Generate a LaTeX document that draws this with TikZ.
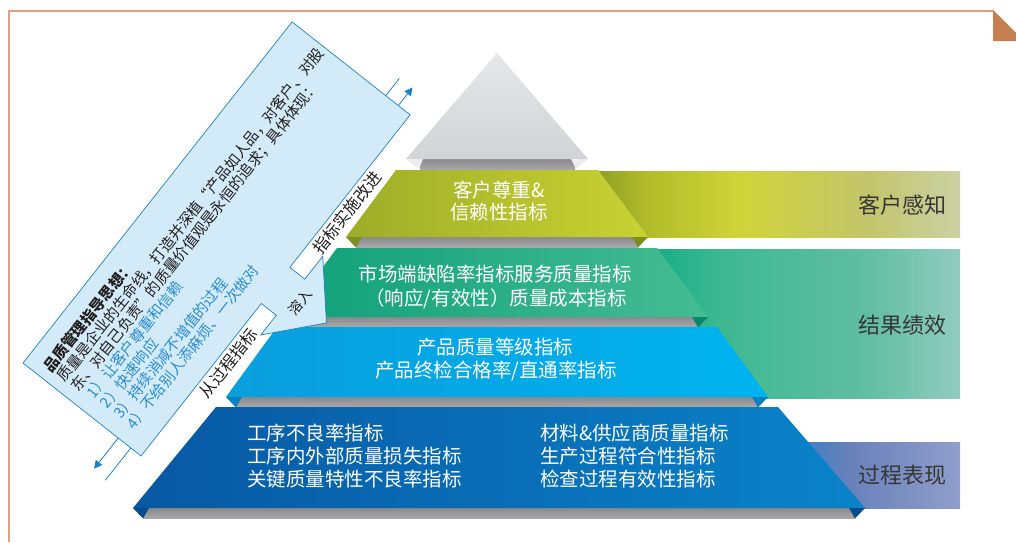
\documentclass[tikz,border=0pt]{standalone}
\usepackage{fontspec}
\newfontfamily\cjk{Noto Sans CJK SC}
\usetikzlibrary{arrows.meta}
\definecolor{framec}{HTML}{E3A07E}
\definecolor{cornerc}{HTML}{C77F4F}
\definecolor{cfill}{HTML}{D3EBF9}
\definecolor{cline}{HTML}{1F80C8}
\definecolor{ctext}{HTML}{2A8CD3}
\definecolor{cblack}{HTML}{231F20}
\definecolor{labc}{HTML}{363636}
\definecolor{barA}{HTML}{8A8A8C}
\definecolor{barB}{HTML}{A9A9AB}
\definecolor{triA}{HTML}{E6E7E9}
\definecolor{triB}{HTML}{D2D3D5}
\definecolor{triC}{HTML}{EDEDEF}
% layers
\definecolor{grA}{HTML}{9CAD28}\definecolor{grB}{HTML}{CAD232}\definecolor{grF}{HTML}{7E8D1F}
\definecolor{teA}{HTML}{0FA079}\definecolor{teB}{HTML}{45BC93}\definecolor{teF}{HTML}{0B8767}
\definecolor{cyA}{HTML}{0A9EDD}\definecolor{cyB}{HTML}{00B3EF}\definecolor{cyF}{HTML}{0A80C2}
\definecolor{dbA}{HTML}{0858A3}\definecolor{dbB}{HTML}{0A83C9}\definecolor{dbF}{HTML}{064C8F}
% bands
\definecolor{b1a}{HTML}{8D9E25}\definecolor{b1b}{HTML}{B1BC29}\definecolor{b1c}{HTML}{CFD438}
\definecolor{b1d}{HTML}{C3C56C}\definecolor{b1e}{HTML}{CAD2A3}
\definecolor{b2a}{HTML}{13AD85}\definecolor{b2b}{HTML}{3DB891}\definecolor{b2c}{HTML}{62BEA2}
\definecolor{b2d}{HTML}{91CCBF}
\definecolor{b3a}{HTML}{3A80C6}\definecolor{b3b}{HTML}{6981BA}\definecolor{b3c}{HTML}{909ECB}

% #1 ytop #2 ybot #3 xtl #4 xtr #5 xbl #6 xbr #7 left colour #8 right colour #9 fold colour
\newcommand\pyrlayer[9]{%
  \shade[top color=barA,bottom color=barB] (#5+10,#2) rectangle (#6-10,#2+10.5);
  \shade[left color=#7,right color=#8] (#3,#1) -- (#4,#1) -- (#6,#2) -- (#5,#2) -- cycle;
  \fill[#9] (#5,#2) -- (#5+16,#2) -- (#5+10,#2+10.5) -- cycle;
  \fill[#9] (#6,#2) -- (#6-16,#2) -- (#6-10,#2+10.5) -- cycle;
}

\begin{document}
\begin{tikzpicture}[x=1pt,y=-1pt,
  lt/.style={font=\cjk\fontsize{19.5}{23}\selectfont,text=white,inner sep=0pt,anchor=base},
  ltl/.style={lt,anchor=base west},
  lab/.style={font=\cjk\fontsize{22}{26}\selectfont,text=labc,inner sep=0pt,anchor=base east},
  ct/.style={font=\cjk\fontsize{15}{16.75}\selectfont,text=cblack,inner sep=0pt,anchor=north west,rotate=51.7,align=left},
  bt/.style={font=\cjk\fontsize{16.5}{18}\selectfont,text=cblack,inner sep=0pt,anchor=center,rotate=51.7},
  conn/.style={draw=cline,line width=0.8pt},
  arr/.style={conn,-{Triangle[length=8pt,width=8pt]}},
]
\useasboundingbox (0,0) rectangle (1016,542);

% frame
\draw[framec,line width=1.4pt] (9,542) -- (9,11) -- (993,11);
\fill[cornerc] (993,10) -- (1016,33) -- (1016,41) -- (993,41) -- cycle;

% right bands
\shade[left color=b1a,right color=b1b] (596,171) rectangle (645.5,237);
\shade[left color=b1b,right color=b1c] (645,171) rectangle (740.5,237);
\shade[left color=b1c,right color=b1d] (740,171) rectangle (870.5,237);
\shade[left color=b1d,right color=b1e] (870,171) rectangle (960,237);

\shade[left color=b2a,right color=b2b] (650,249) rectangle (720.5,398);
\shade[left color=b2b,right color=b2c] (720,249) rectangle (870.5,398);
\shade[left color=b2c,right color=b2d] (870,249) rectangle (960,398);

\shade[left color=b3a,right color=b3b] (800,442) rectangle (850.5,508);
\shade[left color=b3b,right color=b3c] (850,442) rectangle (960,508);

\node[lab] (l1) at (947,213.4) {客户感知};
\node[lab] (l2) at (947,333.4) {结果绩效};
\node[lab] (l3) at (947,483.4) {过程表现};

% top grey triangle
\shade[top color=barA,bottom color=barB] (420,159) rectangle (575,170);
\shade[top color=triA,bottom color=triB] (497,53) -- (588,159) -- (406,159) -- cycle;
\fill[triC] (406,159) -- (423,159) -- (419,169) -- cycle;
\fill[triC] (588,159) -- (571,159) -- (576,169) -- cycle;

% layers
\pyrlayer{170}{237}{396}{598}{346}{648}{grA}{grB}{grF}
\pyrlayer{248}{317}{337}{657}{286}{708}{teA}{teB}{teF}
\pyrlayer{327}{397}{277}{717}{226}{768}{cyA}{cyB}{cyF}
\pyrlayer{407}{508}{216}{778}{133}{865}{dbA}{dbB}{dbF}

\node[lt] (g1) at (499,197.4) {客户尊重\&};
\node[lt] (g2) at (499,219.9) {信赖性指标};
\node[lt] (t1) at (495,281.9) {市场端缺陷率指标服务质量指标};
\node[lt] (t2) at (496,305.9) {（响应/有效性）质量成本指标};
\node[lt] (y1) at (495,354.9) {产品质量等级指标};
\node[lt] (y2) at (496,377.9) {产品终检合格率/直通率指标};
\node[ltl] (d1) at (247,440.4) {工序不良率指标};
\node[ltl] (d2) at (247,463.4) {工序内外部质量损失指标};
\node[ltl] (d3) at (247,486.4) {关键质量特性不良率指标};
\node[ltl] (d4) at (540,440.4) {材料\&供应商质量指标};
\node[ltl] (d5) at (540,463.4) {生产过程符合性指标};
\node[ltl] (d6) at (540,486.4) {检查过程有效性指标};

% callout (rotated frame: s along the long side, t across it)
\begin{scope}[shift={(23,363)},x={(0.620pt,0.786pt)},y={(0.787pt,-0.620pt)}]
  \filldraw[fill=cfill,draw=cline,line width=0.7pt,line join=miter]
    (0,0) -- (434,0) -- (434,150) -- (240,150) -- (240,169) -- (269,169)
    -- (219,213) -- (169,169) -- (194,169) -- (194,150) -- (0,150) -- cycle;
  \node[ct] (ctxt) at (9,14.2) {%
    \rule{0pt}{14pt}{\bfseries 品质管理指导思想：}\\
    \hspace{1pt}质量是企业的生命线，打造并深植“产品如人品，对客户、对股\\
    \hspace{2pt}东、对自己负责”的质量价值观是永恒的追求；具体体现：\\
    \hspace{7pt}\textcolor{ctext}{1）让客户尊重和信赖}\\
    \hspace{7pt}\textcolor{ctext}{2）快速响应}\\
    \hspace{7pt}\textcolor{ctext}{3）持续消减不增值的过程}\\
    \hspace{7pt}\textcolor{ctext}{4）不给别人添麻烦、一次做对}};
  \node[bt] (b1) at (318,161) {指标实施改进};
  \node[bt] (b2) at (127,161) {从过程指标};
  \node[bt,font=\cjk\fontsize{14}{16}\selectfont] (b3) at (219,180) {溶入};
  % flow lines
  \coordinate (ta) at (434,119); \coordinate (tb) at (456,119);
  \coordinate (tc) at (434,135); \coordinate (td) at (457,135);
  \coordinate (ba) at (0,121);   \coordinate (bb) at (-39,121);
  \coordinate (bc) at (0,137);   \coordinate (bd) at (-41,137);
  \draw[conn] (ta) -- (tb);
  \draw[arr] (tc) -- (td);
  \draw[arr] (ba) -- (bb);
  \draw[conn] (bc) -- (bd);
\end{scope}
\end{tikzpicture}
\end{document}
